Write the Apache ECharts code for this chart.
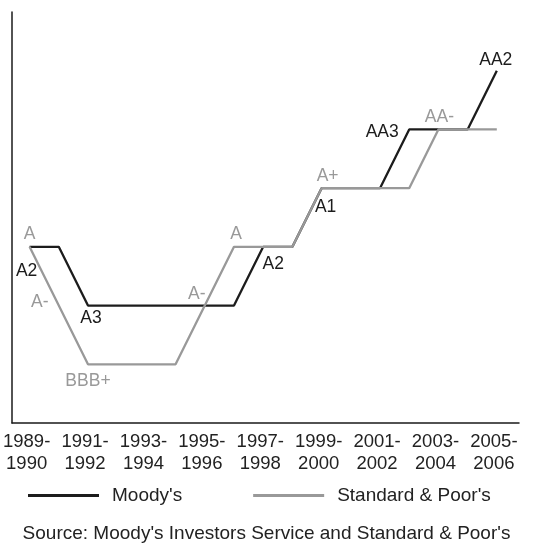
<!DOCTYPE html>
<html>
<head>
<meta charset="utf-8">
<script src="https://cdn.jsdelivr.net/npm/echarts@6/dist/echarts.min.js"></script>
<style>
html, body { margin: 0; padding: 0; background: #fff; }
#chart { width: 533px; height: 544px; }
</style>
</head>
<body>
<div id="chart"></div>
<script>
// Years (one point per year)
const years = ['1989','1990','1991','1992','1993','1994','1995','1996','1997','1998','1999','2000','2001','2002','2003','2004','2005'];
// Axis tick labels
const tickLabels = ['1989-1990','1991-1992','1993-1994','1995-1996','1997-1998','1999-2000','2001-2002','2003-2004','2005-2006'];
// Rating level per year (0 = lowest shown grade)
const moodysValues = [2,2,1,1,1,1,1,1,2,2,3,3,3,4,4,4,5];
const spValues     = [2,1,0,0,0,0,1,2,2,2,3,3,3,3,4,4,4];
// Rating names per level
const moodysScale = ['Baa1','A3','A2','A1','AA3','AA2'];
const spScale     = ['BBB+','A-','A','A+','AA-','AA'];
const seriesNames = ["Moody's", "Standard & Poor's"];
const sourceText = "Source: Moody's Investors Service and Standard & Poor's";

// Which points carry a rating label, and where the label sits (style)
const moodysLabelOffsets = {0:[-3,24], 2:[3,13], 8:[10,17], 10:[4,19], 13:[-27,3], 16:[-1,-11]};
const spLabelOffsets     = {0:[0,-13], 1:[-19,-3], 2:[0,17], 6:[-8,-11], 7:[2,-13], 10:[6,-12], 14:[1,-12]};

const FONT = '"Liberation Sans", Arial, Helvetica, sans-serif';
const BLACK = '#1c1c1c';
const GREY = '#999999';

function buildData(values, scale, offsets, color) {
  return values.map((v, i) => {
    const item = { value: [i, v] };
    if (offsets[i]) {
      item.label = {
        show: true,
        position: 'inside',
        offset: offsets[i],
        formatter: scale[v],
        color: color,
        fontSize: 17.5,
        fontFamily: FONT
      };
    }
    return item;
  });
}

const chart = echarts.init(document.getElementById('chart'), null, { renderer: 'canvas' });
chart.setOption({
  animation: false,
  backgroundColor: '#ffffff',
  grid: { left: 12, right: 14, top: 12, bottom: 121 },
  title: {
    text: sourceText,
    left: 'center',
    top: 519,
    textStyle: { fontSize: 19, fontWeight: 'normal', color: '#222', fontFamily: FONT }
  },
  legend: {
    left: 23,
    top: 481,
    icon: 'rect',
    itemWidth: 71,
    itemHeight: 3,
    itemGap: 71,
    textStyle: { fontSize: 19, color: '#222', fontFamily: FONT, padding: [0, 0, 0, 8] },
    data: seriesNames
  },
  xAxis: {
    type: 'value',
    min: -0.6,
    max: 16.76,
    axisLine: { show: true, onZero: false, lineStyle: { color: '#1a1a1a', width: 1.5 } },
    axisTick: { show: false },
    splitLine: { show: false },
    axisLabel: {
      customValues: tickLabels.map((t, k) => k * 2 - 0.1),
      formatter: v => tickLabels[Math.round((v + 0.1) / 2)].replace('-', '-\n'),
      color: '#222',
      fontSize: 18.5,
      lineHeight: 22,
      margin: 8,
      fontFamily: FONT
    }
  },
  yAxis: {
    type: 'value',
    min: -1,
    max: 6,
    axisLine: { show: true, onZero: false, lineStyle: { color: '#1a1a1a', width: 1.5 } },
    axisTick: { show: false },
    axisLabel: { show: false },
    splitLine: { show: false }
  },
  series: [
    {
      name: seriesNames[0],
      type: 'line',
      symbol: 'circle',
      symbolSize: 0.1,
      showSymbol: true,
      color: BLACK,
      lineStyle: { color: BLACK, width: 2.3 },
      z: 2,
      data: buildData(moodysValues, moodysScale, moodysLabelOffsets, BLACK)
    },
    {
      name: seriesNames[1],
      type: 'line',
      symbol: 'circle',
      symbolSize: 0.1,
      showSymbol: true,
      color: GREY,
      lineStyle: { color: GREY, width: 2.3 },
      z: 3,
      data: buildData(spValues, spScale, spLabelOffsets, GREY)
    }
  ]
});
</script>
</body>
</html>
